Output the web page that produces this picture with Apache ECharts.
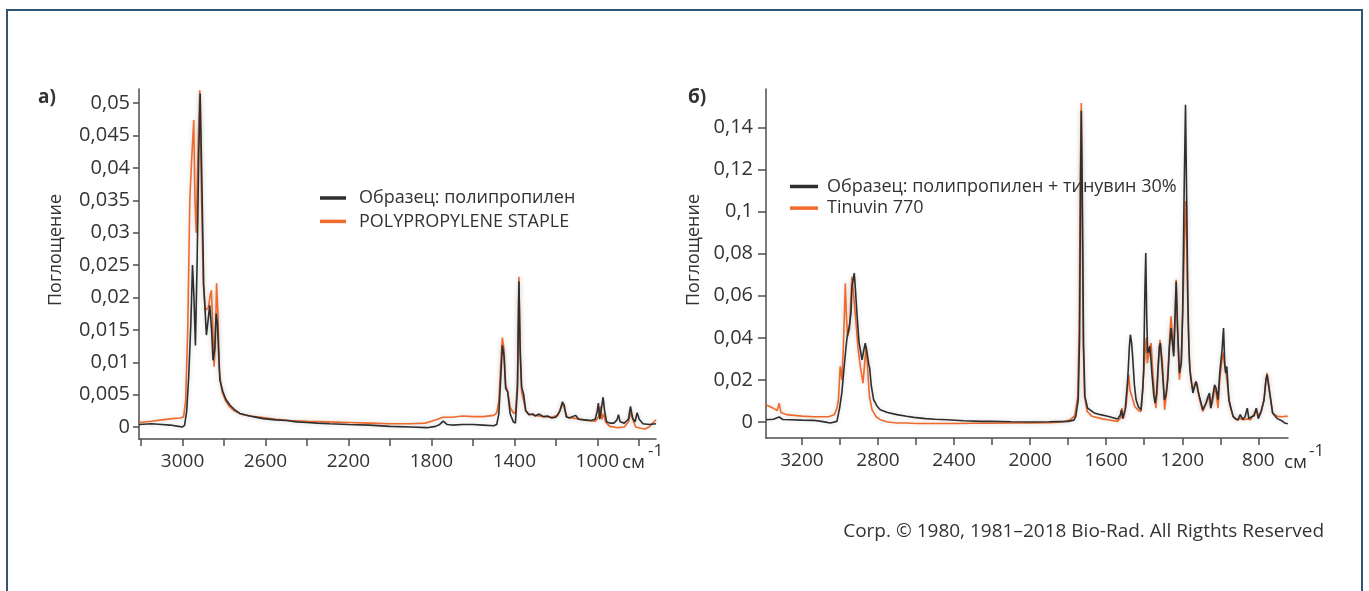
<!DOCTYPE html>
<html><head><meta charset="utf-8">
<script src="https://cdn.jsdelivr.net/npm/echarts@6/dist/echarts.min.js"></script>
<style>html,body{margin:0;padding:0;background:#fff}#c{width:1369px;height:591px}</style>
</head><body><div id="c"></div>
<script>
// ---- data (wavenumber cm-1, absorbance) ----
const leftSample = [[3210,0.0004],[3150,0.0005],[3100,0.0004],[3060,0.0003],[3020,0.0001],[3000,0.0],[2990,0.0003],[2980,0.0025],[2970,0.008],[2960,0.016],[2952,0.025],[2945,0.020],[2938,0.0126],[2930,0.025],[2922,0.042],[2915,0.0515],[2908,0.040],[2898,0.022],[2885,0.0142],[2875,0.017],[2869,0.0188],[2860,0.015],[2853,0.0103],[2845,0.012],[2838,0.0175],[2832,0.016],[2820,0.0072],[2805,0.0054],[2790,0.0042],[2772,0.0034],[2750,0.0027],[2724,0.0021],[2700,0.0019],[2660,0.0016],[2612,0.0013],[2550,0.0011],[2500,0.0010],[2450,0.0008],[2400,0.0007],[2350,0.0006],[2290,0.0005],[2200,0.0004],[2100,0.0003],[2000,0.0001],[1900,0.0],[1821,-0.0001],[1780,0.0001],[1760,0.0004],[1743,0.0009],[1725,0.0004],[1700,0.0003],[1650,0.0004],[1600,0.0004],[1550,0.0003],[1500,0.0002],[1485,0.0004],[1475,0.002],[1465,0.008],[1458,0.0126],[1450,0.011],[1442,0.006],[1432,0.0054],[1420,0.002],[1405,0.0008],[1395,0.0006],[1385,0.006],[1378,0.0225],[1372,0.012],[1365,0.0062],[1355,0.005],[1345,0.0025],[1330,0.0019],[1310,0.002],[1300,0.0017],[1280,0.002],[1260,0.0016],[1240,0.0017],[1220,0.0014],[1200,0.0015],[1180,0.0025],[1168,0.0039],[1160,0.0034],[1150,0.0016],[1135,0.0014],[1105,0.0018],[1090,0.0012],[1060,0.0011],[1030,0.0010],[1010,0.0012],[1000,0.0025],[995,0.0037],[988,0.0012],[980,0.0010],[972,0.0046],[965,0.0025],[955,0.0008],[940,0.0006],[920,0.0006],[905,0.0011],[898,0.0019],[890,0.0008],[870,0.0006],[850,0.0012],[840,0.0032],[830,0.0014],[818,0.0008],[808,0.0022],[798,0.0012],[780,0.0005],[750,0.0004],[717,0.0005]];
const leftRef = [[3210,0.0007],[3150,0.0009],[3100,0.0011],[3050,0.0013],[3010,0.0014],[2995,0.0016],[2985,0.004],[2975,0.015],[2965,0.035],[2957,0.0407],[2950,0.045],[2946,0.0474],[2940,0.035],[2934,0.030],[2926,0.042],[2917,0.052],[2910,0.038],[2900,0.022],[2890,0.018],[2875,0.0185],[2866,0.0205],[2861,0.0211],[2855,0.016],[2848,0.0093],[2842,0.013],[2836,0.0222],[2830,0.018],[2822,0.0085],[2810,0.0055],[2795,0.0042],[2775,0.0032],[2750,0.0025],[2720,0.0020],[2680,0.0017],[2620,0.0015],[2550,0.0012],[2480,0.0010],[2400,0.0009],[2300,0.0008],[2200,0.0007],[2100,0.0006],[2000,0.0005],[1900,0.0005],[1830,0.0006],[1800,0.0009],[1770,0.0012],[1745,0.0015],[1700,0.0015],[1650,0.0017],[1600,0.0016],[1550,0.0016],[1500,0.0018],[1485,0.0022],[1475,0.004],[1465,0.010],[1458,0.0138],[1450,0.012],[1442,0.0065],[1432,0.0055],[1420,0.003],[1405,0.0022],[1395,0.0021],[1385,0.007],[1378,0.0232],[1372,0.011],[1365,0.0055],[1355,0.004],[1345,0.0025],[1330,0.002],[1300,0.0018],[1260,0.0016],[1220,0.0015],[1190,0.0018],[1175,0.003],[1165,0.0036],[1155,0.0025],[1145,0.0015],[1100,0.0013],[1050,0.0010],[1010,0.0009],[995,0.0015],[985,0.0032],[978,0.0012],[970,0.002],[960,0.0008],[940,0.0001],[900,-0.0001],[870,0.0],[850,0.0008],[838,0.0023],[828,0.0011],[815,0.0],[790,-0.0002],[770,-0.0003],[750,0.0],[730,0.0007],[717,0.0011]];
const rightSample = [[3389,0.0011],[3350,0.0013],[3320,0.0024],[3300,0.0012],[3262,0.0011],[3200,0.0009],[3139,0.0008],[3090,0.0002],[3051,-0.0005],[3016,0.0003],[3002,0.0066],[2990,0.014],[2981,0.0233],[2970,0.034],[2963,0.040],[2950,0.046],[2942,0.052],[2937,0.0644],[2925,0.0708],[2918,0.062],[2911,0.0518],[2900,0.038],[2884,0.0296],[2875,0.034],[2867,0.0375],[2860,0.034],[2855,0.0312],[2848,0.027],[2844,0.0257],[2835,0.017],[2823,0.0106],[2805,0.0075],[2788,0.0058],[2750,0.0045],[2700,0.0035],[2650,0.0027],[2612,0.0022],[2550,0.0016],[2500,0.0013],[2436,0.0011],[2350,0.0006],[2260,0.0003],[2200,0.0003],[2100,0.0001],[2000,0.0],[1900,0.0001],[1800,0.0003],[1770,0.0009],[1760,0.0027],[1747,0.0106],[1740,0.04],[1735,0.11],[1731,0.148],[1726,0.11],[1719,0.036],[1712,0.0122],[1698,0.0066],[1663,0.0043],[1630,0.0035],[1592,0.0027],[1540,0.0014],[1525,0.0035],[1520,0.0058],[1513,0.0016],[1500,0.006],[1487,0.0201],[1478,0.036],[1473,0.0415],[1467,0.038],[1461,0.0312],[1452,0.018],[1443,0.0106],[1430,0.007],[1417,0.0058],[1408,0.015],[1403,0.0249],[1397,0.06],[1392,0.0803],[1387,0.05],[1382,0.0328],[1376,0.034],[1371,0.036],[1365,0.030],[1360,0.0233],[1350,0.013],[1343,0.009],[1335,0.013],[1328,0.025],[1320,0.036],[1315,0.0375],[1310,0.031],[1305,0.0249],[1294,0.0106],[1285,0.013],[1276,0.0201],[1268,0.035],[1259,0.0447],[1252,0.038],[1245,0.0312],[1238,0.05],[1232,0.0668],[1225,0.045],[1215,0.0233],[1205,0.028],[1198,0.052],[1190,0.11],[1183,0.1508],[1176,0.10],[1171,0.06],[1165,0.035],[1160,0.0249],[1144,0.0138],[1135,0.017],[1127,0.0193],[1118,0.015],[1110,0.0122],[1092,0.0058],[1075,0.009],[1065,0.012],[1057,0.0138],[1050,0.0066],[1040,0.012],[1030,0.0177],[1022,0.016],[1012,0.0106],[1003,0.0233],[990,0.035],[983,0.0447],[977,0.028],[972,0.0233],[966,0.0264],[955,0.0106],[933,0.0027],[920,0.0015],[907,0.0011],[895,0.0035],[882,0.0012],[870,0.0025],[858,0.0066],[850,0.0016],[835,0.0025],[822,0.003],[811,0.0066],[800,0.0016],[785,0.005],[770,0.0106],[760,0.02],[754,0.0225],[747,0.018],[740,0.0138],[725,0.0043],[700,0.0016],[675,0.0005],[661,-0.0005],[645,-0.0008]];
const rightRef = [[3389,0.0082],[3350,0.0065],[3330,0.0055],[3320,0.009],[3310,0.0045],[3280,0.0035],[3200,0.0028],[3139,0.0025],[3060,0.0025],[3030,0.0035],[3016,0.0065],[3008,0.0106],[2999,0.0264],[2990,0.020],[2982,0.036],[2972,0.066],[2966,0.05],[2960,0.0407],[2950,0.044],[2937,0.069],[2930,0.062],[2920,0.052],[2905,0.035],[2893,0.0264],[2879,0.0185],[2870,0.028],[2862,0.036],[2855,0.026],[2845,0.012],[2831,0.0058],[2810,0.0025],[2788,0.0011],[2750,0.0],[2700,-0.0005],[2650,-0.0005],[2600,-0.0007],[2500,-0.0007],[2400,-0.0007],[2300,-0.0006],[2200,-0.0006],[2100,-0.0005],[2000,-0.0005],[1900,-0.0003],[1830,0.0],[1788,0.0011],[1765,0.003],[1750,0.012],[1742,0.045],[1736,0.12],[1731,0.1516],[1727,0.115],[1721,0.04],[1714,0.0122],[1700,0.005],[1675,0.0027],[1620,0.0015],[1592,0.0011],[1540,0.0003],[1525,0.002],[1517,0.0066],[1510,0.0016],[1495,0.008],[1482,0.0225],[1475,0.015],[1465,0.0122],[1450,0.0074],[1430,0.0055],[1417,0.005],[1405,0.0201],[1395,0.034],[1389,0.04],[1384,0.028],[1375,0.033],[1364,0.0375],[1356,0.025],[1348,0.0153],[1339,0.0066],[1330,0.018],[1322,0.034],[1317,0.0391],[1312,0.034],[1305,0.0296],[1293,0.0058],[1285,0.012],[1275,0.025],[1265,0.042],[1259,0.0502],[1252,0.04],[1245,0.0328],[1238,0.05],[1232,0.0676],[1225,0.045],[1215,0.0201],[1205,0.03],[1195,0.06],[1186,0.095],[1181,0.105],[1176,0.085],[1170,0.05],[1163,0.03],[1155,0.02],[1144,0.0153],[1130,0.019],[1122,0.018],[1110,0.011],[1092,0.005],[1075,0.009],[1057,0.0122],[1050,0.0066],[1040,0.010],[1030,0.0162],[1022,0.014],[1012,0.0066],[1003,0.02],[992,0.029],[983,0.033],[977,0.027],[970,0.0233],[963,0.024],[950,0.008],[933,0.0027],[910,0.0008],[895,0.0018],[880,0.0011],[858,0.0015],[840,0.0011],[811,0.0058],[800,0.003],[785,0.005],[770,0.0106],[760,0.020],[754,0.0233],[747,0.019],[740,0.0138],[725,0.0043],[700,0.0027],[675,0.0025],[661,0.0027],[645,0.0027]];

const leftYTicks = [0,0.005,0.01,0.015,0.02,0.025,0.03,0.035,0.04,0.045,0.05];
const rightYTicks = [0,0.02,0.04,0.06,0.08,0.1,0.12,0.14];
const xTicks = [3200,3000,2800,2600,2400,2200,2000,1800,1600,1400,1200,1000,800];
const leftXLabels = [3000,2600,2200,1800,1400,1000];
const rightXLabels = [3200,2800,2400,2000,1600,1200,800];
const names = ['Образец: полипропилен','POLYPROPYLENE STAPLE','Образец: полипропилен + тинувин 30%','Tinuvin 770'];

const FONT = '"Open Sans", "Noto Sans", sans-serif';
const TXT = '#333333';
const AX = '#4d4d4d';
const BLACK = '#2e2e2e';
const ORANGE = '#f26a2c';
const fmt = v => String(v).replace('.', ',');

function xAxis(grid, min, max, labels){
  return {type:'value', gridIndex:grid, inverse:true, min:min, max:max,
    axisLine:{show:true, onZero:false, lineStyle:{color:AX, width:1.5}},
    axisTick:{show:true, length:7, customValues:xTicks, lineStyle:{color:AX, width:1.5}},
    axisLabel:{customValues:labels, margin:13, color:TXT, fontFamily:FONT, fontSize:19, formatter:v => String(v)},
    splitLine:{show:false}};
}
function yAxis(grid, min, max, ticks, tickLen, margin){
  return {type:'value', gridIndex:grid, min:min, max:max,
    axisLine:{show:true, onZero:false, lineStyle:{color:AX, width:1.5}},
    axisTick:{show:true, length:tickLen, customValues:ticks, lineStyle:{color:AX, width:1.5}},
    axisLabel:{customValues:ticks, margin:margin, color:TXT, fontFamily:FONT, fontSize:20, formatter:fmt},
    splitLine:{show:false}};
}
function line(name, data, xi, color, z){
  return {name:name, type:'line', xAxisIndex:xi, yAxisIndex:xi, data:data, showSymbol:false,
    symbol:'none', z:z, lineStyle:{color:color, width:1.6, shadowColor:'rgba(0,0,0,0.15)', shadowBlur:5},
    itemStyle:{color:color}};
}
const txt = (t, x, y, extra) => Object.assign({type:'text', x:x, y:y, silent:true,
  style:Object.assign({text:t, fill:TXT, font:'18px ' + FONT, align:'left', verticalAlign:'middle'}, extra||{})});

const chart = echarts.init(document.getElementById('c'), null, {renderer:'canvas'});
chart.setOption({
  animation:false,
  backgroundColor:'#ffffff',
  grid:[{left:139, top:89, width:517, height:350},{left:766, top:89, width:522, height:349}],
  xAxis:[xAxis(0, 717, 3210, leftXLabels), xAxis(1, 644, 3389, rightXLabels)],
  yAxis:[yAxis(0, -0.00185, 0.0522, leftYTicks, 6, 9), yAxis(1, -0.0076, 0.1583, rightYTicks, 8, 13)],
  legend:[
    {data:[names[0], names[1]], orient:'vertical', left:320, top:188, padding:0, itemGap:3.4,
     icon:'rect', itemWidth:26, itemHeight:3.5,
     textStyle:{fontFamily:FONT, fontSize:18, color:TXT, lineHeight:20, padding:[0,0,0,8]}},
    {data:[names[2], names[3]], orient:'vertical', left:790, top:176.5, padding:0, itemGap:1.6,
     icon:'rect', itemWidth:28, itemHeight:3.5,
     textStyle:{fontFamily:FONT, fontSize:18, color:TXT, lineHeight:20, padding:[0,0,0,4]}}
  ],
  series:[
    line(names[1], leftRef, 0, ORANGE, 2),
    line(names[0], leftSample, 0, BLACK, 3),
    line(names[3], rightRef, 1, ORANGE, 2),
    line(names[2], rightSample, 1, BLACK, 3)
  ],
  graphic:[
    {type:'rect', shape:{x:7, y:10, width:1355, height:700}, silent:true,
     style:{fill:null, stroke:'#2f5775', lineWidth:2}},
    txt('а)', 38, 98, {font:'bold 19px ' + FONT}),
    txt('б)', 688, 98, {font:'bold 19px ' + FONT}),
    Object.assign(txt('Поглощение', 55.5, 250, {align:'center'}), {rotation:Math.PI/2}),
    Object.assign(txt('Поглощение', 693.5, 250, {align:'center'}), {rotation:Math.PI/2}),
    txt('см', 622, 463, {font:'19px ' + FONT}),
    txt('-1', 648, 451, {font:'17px ' + FONT}),
    txt('см', 1284, 463, {font:'19px ' + FONT}),
    txt('-1', 1309, 451, {font:'17px ' + FONT}),
    txt('Corp. © 1980, 1981–2018 Bio-Rad. All Rigthts Reserved', 1324, 532, {align:'right', font:'19px ' + FONT})
  ]
});
</script></body></html>
